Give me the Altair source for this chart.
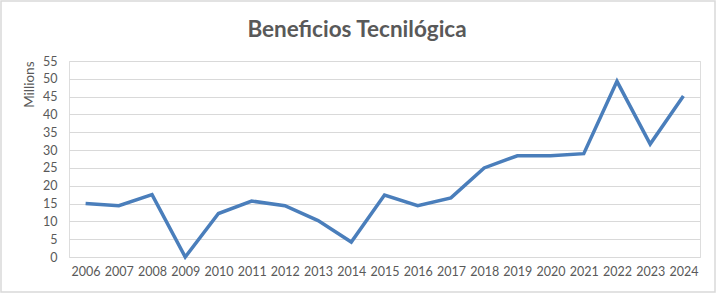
import altair as alt
import pandas as pd

years = [str(y) for y in range(2006, 2025)]
values = [15.0, 14.4, 17.5, 0.0, 12.2, 15.7, 14.4, 10.2, 4.2, 17.4, 14.4, 16.6,
          25.0, 28.4, 28.4, 29.0, 49.3, 31.7, 45.2]
y_ticks = list(range(0, 56, 5))
title_text = ["Beneficios Tecnilógica"]

df = pd.DataFrame({"year": years, "value": values})

font = "Lato"
grey = "#595959"

line = alt.Chart(df).mark_line(color="#4A7EBB", strokeWidth=3.5, strokeJoin="miter").encode(
    x=alt.X("year:N", sort=years, title=None,
            scale=alt.Scale(paddingInner=0, paddingOuter=0.5),
            axis=alt.Axis(labelAngle=0, ticks=False, domain=False, grid=False,
                          labelPadding=8, labelFontSize=12.5, labelColor=grey, labelFont=font)),
    y=alt.Y("value:Q", title="Millions",
            scale=alt.Scale(domain=[0, 55], nice=False),
            axis=alt.Axis(values=y_ticks, ticks=False, domain=False, gridColor="#D9D9D9",
                          gridWidth=1, labelPadding=12, labelFontSize=12.5, labelColor=grey,
                          labelFont=font, titleFont=font, titleFontSize=13.5,
                          titleColor=grey, titleFontWeight="normal", titleAnchor="end",
                          titlePadding=6)),
)

deco = pd.DataFrame({"t": title_text})

border = alt.Chart(deco).mark_rect(
    fill=None, stroke="#D9D9D9", strokeWidth=1.5
).encode(x=alt.value(-68), x2=alt.value(646), y=alt.value(-60), y2=alt.value(231))

title = alt.Chart(deco).mark_text(
    font=font, fontSize=22.5, fontWeight="bold", color=grey, align="center", baseline="middle"
).encode(text="t:N", x=alt.value(288), y=alt.value(-31))

chart = alt.layer(line, border, title).properties(
    width=631, height=196,
    padding={"left": 69, "top": 61, "right": 16, "bottom": 36},
    autosize=alt.AutoSizeParams(type="none"),
).configure_view(stroke=None).configure(background="white")

chart.save("out.html", embed_options={"renderer": "svg", "actions": False})
